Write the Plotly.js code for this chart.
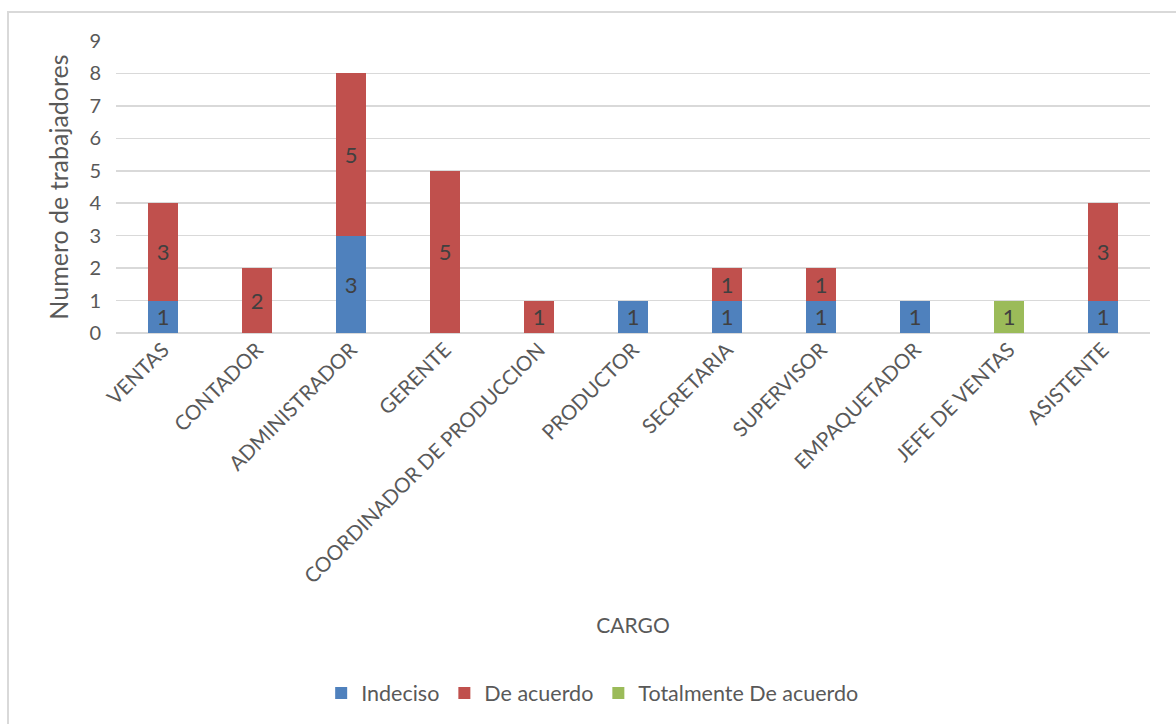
<!DOCTYPE html>
<html>
<head>
<meta charset="utf-8">
<script src="https://cdn.plot.ly/plotly-3.0.1.min.js"></script>
<style>
html,body{margin:0;padding:0;background:#fff;}
#wrap{position:relative;width:1176px;height:724px;}
#chart{width:1176px;height:724px;}
#frame{position:absolute;left:7px;top:11px;width:1169px;height:713px;border-left:2px solid #d9d9d9;border-top:2px solid #d9d9d9;pointer-events:none;}
</style>
</head>
<body>
<div id="wrap"><div id="chart"></div><div id="frame"></div></div>
<script>
const categories = ["VENTAS","CONTADOR","ADMINISTRADOR","GERENTE","COORDINADOR DE PRODUCCION","PRODUCTOR","SECRETARIA","SUPERVISOR","EMPAQUETADOR","JEFE DE VENTAS","ASISTENTE"];
const indeciso = [1, null, 3, null, null, 1, 1, 1, 1, null, 1];
const deAcuerdo = [3, 2, 5, 5, 1, null, 1, 1, null, null, 3];
const totalmente = [null, null, null, null, null, null, null, null, null, 1, null];
const yTicks = [0,1,2,3,4,5,6,7,8,9];

const FONT = "Lato, 'Open Sans', sans-serif";
const labelFont = {family: FONT, size: 22, color: "#404040"};

function series(name, vals, color) {
  return {
    type: "bar", name: name, x: categories, y: vals,
    marker: {color: color, line: {width: 0}},
    text: vals.map(v => v == null ? "" : String(v)),
    textposition: "inside", insidetextanchor: "middle",
    textfont: labelFont, constraintext: "none",
    hoverinfo: "x+y+name"
  };
}

const data = [
  series("Indeciso", indeciso, "#4F81BD"),
  series("De acuerdo", deAcuerdo, "#C0504D"),
  series("Totalmente De acuerdo", totalmente, "#9BBB59")
];

const layout = {
  width: 1176, height: 724,
  margin: {l: 116, r: 26, t: 41, b: 390},
  paper_bgcolor: "#ffffff", plot_bgcolor: "#ffffff",
  barmode: "stack", bargap: 0.68,
  font: {family: FONT, color: "#595959"},
  showlegend: true,
  legend: {orientation: "h", x: 0.461, xanchor: "center", y: -1.225, yanchor: "middle",
           font: {family: FONT, size: 21.5, color: "#595959"}, itemwidth: 30, traceorder: "normal"},
  xaxis: {
    type: "category", tickangle: -45, showgrid: false, zeroline: false,
    showline: false, ticks: "",
    tickfont: {family: FONT, size: 20.5, color: "#595959"},
    title: {text: "CARGO", font: {family: FONT, size: 21, color: "#595959"}, standoff: 31}
  },
  yaxis: {
    range: [0, 9], tickvals: yTicks, ticktext: yTicks.map(String),
    showgrid: true, gridcolor: "#d9d9d9", gridwidth: 1.5,
    zeroline: true, zerolinecolor: "#d9d9d9", zerolinewidth: 1.5,
    showline: false, ticks: "", ticklabelstandoff: 14,
    tickfont: {family: FONT, size: 20, color: "#595959"},
    title: {text: "Numero de trabajadores", font: {family: FONT, size: 25, color: "#595959"}, standoff: 13}
  }
};

Plotly.newPlot("chart", data, layout, {displayModeBar: false, staticPlot: true});
</script>
</body>
</html>
